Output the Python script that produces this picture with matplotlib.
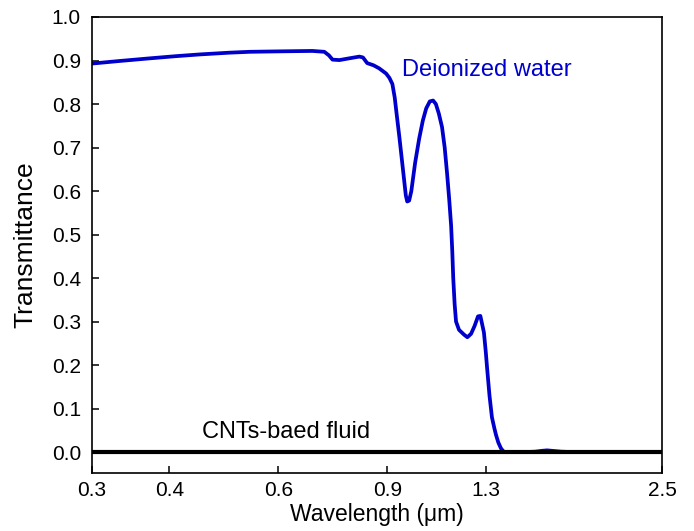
import matplotlib
matplotlib.use("Agg")
import matplotlib.pyplot as plt
from matplotlib.ticker import FixedLocator, FixedFormatter, NullLocator

plt.rcParams['font.family'] = ['Liberation Sans', 'DejaVu Sans']

# Deionized water transmittance
wavelength = [0.300, 0.333, 0.372, 0.410, 0.448, 0.500, 0.539, 0.600, 0.681, 0.712,
              0.724, 0.734, 0.753, 0.781, 0.811, 0.822, 0.835, 0.855, 0.873, 0.896,
              0.907, 0.917, 0.925, 0.932, 0.941, 0.950, 0.958, 0.964, 0.969, 0.976,
              0.984, 0.998, 1.013, 1.027, 1.040, 1.054, 1.067, 1.078, 1.090, 1.103,
              1.114, 1.124, 1.133, 1.141, 1.146, 1.150, 1.156, 1.162, 1.175, 1.197,
              1.212, 1.229, 1.245, 1.261, 1.272, 1.289, 1.298, 1.304, 1.316, 1.328,
              1.340, 1.348, 1.360, 1.373, 1.385, 1.395, 1.45, 1.50, 1.56, 1.60,
              1.63, 1.66, 1.69, 1.72, 1.80, 1.95, 2.10, 2.30, 2.50]
water = [0.893, 0.899, 0.905, 0.910, 0.914, 0.918, 0.920, 0.921, 0.922, 0.920,
         0.912, 0.902, 0.901, 0.905, 0.909, 0.907, 0.894, 0.889, 0.882, 0.870,
         0.860, 0.846, 0.815, 0.775, 0.725, 0.672, 0.625, 0.590, 0.576, 0.578,
         0.600, 0.665, 0.720, 0.762, 0.790, 0.806, 0.808, 0.800, 0.778, 0.747,
         0.700, 0.640, 0.580, 0.520, 0.460, 0.400, 0.340, 0.300, 0.281, 0.270,
         0.264, 0.272, 0.290, 0.312, 0.313, 0.275, 0.230, 0.195, 0.130, 0.080,
         0.055, 0.040, 0.022, 0.009, 0.002, 0.000, 0.000, 0.000, 0.001, 0.003,
         0.004, 0.003, 0.002, 0.001, 0.000, 0.000, 0.000, 0.000, 0.000]

# CNTs-based fluid transmittance
cnt_wavelength = [0.30, 2.50]
cnt = [0.0, 0.0]

xticks = [0.3, 0.4, 0.6, 0.9, 1.3, 2.5]
xticklabels = ["0.3", "0.4", "0.6", "0.9", "1.3", "2.5"]
yticks = [0.0, 0.1, 0.2, 0.3, 0.4, 0.5, 0.6, 0.7, 0.8, 0.9, 1.0]

fig = plt.figure(figsize=(6.94, 5.31), dpi=100)
ax = fig.add_axes([92/694, 1-473/531, 570/694, 456/531])

ax.plot(wavelength, water, color='#0000cc', lw=2.7, solid_capstyle='round')
ax.plot(cnt_wavelength, cnt, color='black', lw=3.0)

ax.set_xscale('log')
ax.set_xlim(0.3, 2.5)
ax.set_ylim(-0.048, 1.0)
ax.xaxis.set_major_locator(FixedLocator(xticks))
ax.xaxis.set_major_formatter(FixedFormatter(xticklabels))
ax.xaxis.set_minor_locator(NullLocator())
ax.set_yticks(yticks)
ax.set_yticklabels([f"{v:.1f}" for v in yticks])

ax.tick_params(direction='in', length=5, width=1.1, labelsize=15,
               top=False, right=False)
ax.tick_params(axis='x', pad=6)
ax.tick_params(axis='y', pad=8)
for s in ax.spines.values():
    s.set_linewidth(1.2)

ax.set_xlabel("Wavelength (\u03bcm)", fontsize=16.5, labelpad=2)
ax.set_ylabel("Transmittance", fontsize=19, labelpad=10)

ax.text(0.951, 0.878, "Deionized water", color='#0000cc', fontsize=17,
        ha='left', va='center')
ax.text(0.451, 0.046, "CNTs-baed fluid", color='black', fontsize=17,
        ha='left', va='center')

fig.savefig("out.png", dpi=100)
